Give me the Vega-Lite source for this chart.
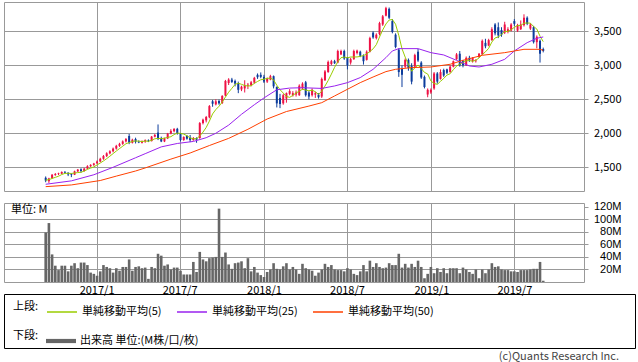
{
"$schema": "https://vega.github.io/schema/vega-lite/v6.json",
"padding": {"left": 3, "top": 1, "right": 0, "bottom": 0},
"background": "white",
"config": {
  "font": "Noto Sans CJK JP",
  "view": {"stroke": "#999999", "strokeWidth": 1},
  "axis": {"labelFont": "Noto Sans CJK JP", "labelFontSize": 11, "labelColor": "#000000", "gridColor": "#999999", "gridWidth": 1, "tickColor": "#999999", "domain": false, "labelOverlap": false},
  "legend": {"labelFont": "Noto Sans CJK JP", "titleFont": "Noto Sans CJK JP", "labelFontSize": 11, "titleFontSize": 11, "titleFontWeight": "normal", "labelColor": "#000000", "titleColor": "#000000", "padding": 0, "labelLimit": 300}
},
"datasets": {
"candles": [
{"date":"2016-09-12","open":1345,"high":1365,"low":1280,"close":1305,"volume":79},
{"date":"2016-09-19","open":1295,"high":1345,"low":1270,"close":1335,"volume":94},
{"date":"2016-09-26","open":1340,"high":1400,"low":1330,"close":1390,"volume":44},
{"date":"2016-10-03","open":1385,"high":1415,"low":1375,"close":1400,"volume":26},
{"date":"2016-10-10","open":1400,"high":1420,"low":1385,"close":1410,"volume":19},
{"date":"2016-10-17","open":1405,"high":1440,"low":1400,"close":1430,"volume":26},
{"date":"2016-10-24","open":1430,"high":1445,"low":1410,"close":1420,"volume":26},
{"date":"2016-10-31","open":1420,"high":1425,"low":1370,"close":1395,"volume":17},
{"date":"2016-11-07","open":1400,"high":1410,"low":1355,"close":1390,"volume":26},
{"date":"2016-11-14","open":1390,"high":1450,"low":1385,"close":1440,"volume":30},
{"date":"2016-11-21","open":1440,"high":1475,"low":1430,"close":1465,"volume":22},
{"date":"2016-11-28","open":1470,"high":1485,"low":1420,"close":1445,"volume":31},
{"date":"2016-12-05","open":1445,"high":1490,"low":1435,"close":1480,"volume":31},
{"date":"2016-12-12","open":1480,"high":1530,"low":1470,"close":1515,"volume":27},
{"date":"2016-12-19","open":1515,"high":1545,"low":1505,"close":1535,"volume":15},
{"date":"2016-12-26","open":1535,"high":1565,"low":1520,"close":1555,"volume":13},
{"date":"2017-01-02","open":1560,"high":1600,"low":1545,"close":1585,"volume":10},
{"date":"2017-01-09","open":1585,"high":1640,"low":1575,"close":1625,"volume":17},
{"date":"2017-01-16","open":1625,"high":1680,"low":1610,"close":1665,"volume":27},
{"date":"2017-01-23","open":1665,"high":1720,"low":1650,"close":1705,"volume":24},
{"date":"2017-01-30","open":1705,"high":1750,"low":1690,"close":1735,"volume":22},
{"date":"2017-02-06","open":1735,"high":1790,"low":1720,"close":1775,"volume":15},
{"date":"2017-02-13","open":1775,"high":1830,"low":1760,"close":1815,"volume":22},
{"date":"2017-02-20","open":1815,"high":1860,"low":1800,"close":1845,"volume":18},
{"date":"2017-02-27","open":1845,"high":1895,"low":1830,"close":1880,"volume":24},
{"date":"2017-03-06","open":1880,"high":1930,"low":1865,"close":1915,"volume":24},
{"date":"2017-03-13","open":1960,"high":1990,"low":1840,"close":1860,"volume":36},
{"date":"2017-03-20","open":1860,"high":1920,"low":1850,"close":1905,"volume":18},
{"date":"2017-03-27","open":1915,"high":1935,"low":1850,"close":1875,"volume":24},
{"date":"2017-04-03","open":1875,"high":1895,"low":1855,"close":1865,"volume":25},
{"date":"2017-04-10","open":1860,"high":1895,"low":1850,"close":1885,"volume":22},
{"date":"2017-04-17","open":1880,"high":1910,"low":1860,"close":1900,"volume":23},
{"date":"2017-04-24","open":1895,"high":1910,"low":1870,"close":1885,"volume":5},
{"date":"2017-05-01","open":1885,"high":1960,"low":1880,"close":1950,"volume":24},
{"date":"2017-05-08","open":1950,"high":1990,"low":1940,"close":1975,"volume":22},
{"date":"2017-05-15","open":2010,"high":2130,"low":1900,"close":1915,"volume":45},
{"date":"2017-05-22","open":1925,"high":1950,"low":1870,"close":1880,"volume":42},
{"date":"2017-05-29","open":1880,"high":1935,"low":1870,"close":1925,"volume":26},
{"date":"2017-06-05","open":1925,"high":2005,"low":1915,"close":1995,"volume":28},
{"date":"2017-06-12","open":1995,"high":2060,"low":1985,"close":2035,"volume":20},
{"date":"2017-06-19","open":2030,"high":2075,"low":2015,"close":2065,"volume":23},
{"date":"2017-06-26","open":2065,"high":2080,"low":1980,"close":1995,"volume":23},
{"date":"2017-07-03","open":1995,"high":2005,"low":1880,"close":1900,"volume":18},
{"date":"2017-07-10","open":1900,"high":1955,"low":1890,"close":1945,"volume":12},
{"date":"2017-07-17","open":1960,"high":1975,"low":1905,"close":1920,"volume":12},
{"date":"2017-07-24","open":1935,"high":1975,"low":1870,"close":1900,"volume":12},
{"date":"2017-07-31","open":1900,"high":1945,"low":1890,"close":1930,"volume":32},
{"date":"2017-08-07","open":1930,"high":1940,"low":1860,"close":1905,"volume":16},
{"date":"2017-08-14","open":1930,"high":2165,"low":1920,"close":2150,"volume":48},
{"date":"2017-08-21","open":2150,"high":2215,"low":2130,"close":2200,"volume":36},
{"date":"2017-08-28","open":2190,"high":2255,"low":2160,"close":2240,"volume":33},
{"date":"2017-09-04","open":2235,"high":2415,"low":2220,"close":2400,"volume":38},
{"date":"2017-09-11","open":2470,"high":2490,"low":2390,"close":2435,"volume":39},
{"date":"2017-09-18","open":2425,"high":2500,"low":2410,"close":2470,"volume":40},
{"date":"2017-09-25","open":2475,"high":2495,"low":2420,"close":2440,"volume":117},
{"date":"2017-10-02","open":2445,"high":2560,"low":2430,"close":2550,"volume":40},
{"date":"2017-10-09","open":2555,"high":2785,"low":2545,"close":2770,"volume":47},
{"date":"2017-10-16","open":2740,"high":2810,"low":2710,"close":2790,"volume":28},
{"date":"2017-10-23","open":2790,"high":2815,"low":2740,"close":2755,"volume":21},
{"date":"2017-10-30","open":2770,"high":2790,"low":2690,"close":2730,"volume":30},
{"date":"2017-11-06","open":2740,"high":2760,"low":2590,"close":2640,"volume":31},
{"date":"2017-11-13","open":2645,"high":2700,"low":2620,"close":2685,"volume":33},
{"date":"2017-11-20","open":2660,"high":2780,"low":2600,"close":2705,"volume":22},
{"date":"2017-11-27","open":2700,"high":2740,"low":2650,"close":2715,"volume":38},
{"date":"2017-12-04","open":2705,"high":2770,"low":2690,"close":2750,"volume":17},
{"date":"2017-12-11","open":2745,"high":2830,"low":2730,"close":2815,"volume":24},
{"date":"2017-12-18","open":2860,"high":2880,"low":2800,"close":2825,"volume":15},
{"date":"2017-12-25","open":2860,"high":2895,"low":2810,"close":2830,"volume":11},
{"date":"2018-01-01","open":2830,"high":2860,"low":2740,"close":2760,"volume":8},
{"date":"2018-01-08","open":2760,"high":2820,"low":2740,"close":2805,"volume":16},
{"date":"2018-01-15","open":2790,"high":2860,"low":2780,"close":2840,"volume":20},
{"date":"2018-01-22","open":2840,"high":2850,"low":2660,"close":2690,"volume":30},
{"date":"2018-01-29","open":2680,"high":2690,"low":2380,"close":2440,"volume":21},
{"date":"2018-02-05","open":2520,"high":2580,"low":2370,"close":2430,"volume":20},
{"date":"2018-02-12","open":2440,"high":2580,"low":2420,"close":2560,"volume":25},
{"date":"2018-02-19","open":2510,"high":2600,"low":2450,"close":2590,"volume":30},
{"date":"2018-02-26","open":2580,"high":2650,"low":2560,"close":2620,"volume":20},
{"date":"2018-03-05","open":2560,"high":2620,"low":2540,"close":2590,"volume":24},
{"date":"2018-03-12","open":2570,"high":2630,"low":2540,"close":2600,"volume":20},
{"date":"2018-03-19","open":2560,"high":2720,"low":2550,"close":2700,"volume":13},
{"date":"2018-03-26","open":2660,"high":2750,"low":2640,"close":2730,"volume":29},
{"date":"2018-04-02","open":2750,"high":2770,"low":2540,"close":2560,"volume":22},
{"date":"2018-04-09","open":2600,"high":2620,"low":2500,"close":2540,"volume":20},
{"date":"2018-04-16","open":2560,"high":2660,"low":2540,"close":2640,"volume":18},
{"date":"2018-04-23","open":2570,"high":2610,"low":2520,"close":2590,"volume":10},
{"date":"2018-04-30","open":2570,"high":2590,"low":2510,"close":2530,"volume":15},
{"date":"2018-05-07","open":2540,"high":2820,"low":2520,"close":2800,"volume":20},
{"date":"2018-05-14","open":2780,"high":2930,"low":2770,"close":2910,"volume":29},
{"date":"2018-05-21","open":2900,"high":3070,"low":2890,"close":3050,"volume":24},
{"date":"2018-05-28","open":3020,"high":3080,"low":3000,"close":3060,"volume":27},
{"date":"2018-06-04","open":3060,"high":3080,"low":3020,"close":3030,"volume":20},
{"date":"2018-06-11","open":3040,"high":3230,"low":3030,"close":3210,"volume":19},
{"date":"2018-06-18","open":3160,"high":3230,"low":3150,"close":3210,"volume":19},
{"date":"2018-06-25","open":3210,"high":3230,"low":3080,"close":3100,"volume":17},
{"date":"2018-07-02","open":3110,"high":3120,"low":2940,"close":3000,"volume":22},
{"date":"2018-07-09","open":3040,"high":3110,"low":3010,"close":3090,"volume":20},
{"date":"2018-07-16","open":3090,"high":3230,"low":3080,"close":3210,"volume":13},
{"date":"2018-07-23","open":3180,"high":3230,"low":3160,"close":3215,"volume":11},
{"date":"2018-07-30","open":3200,"high":3215,"low":3120,"close":3140,"volume":17},
{"date":"2018-08-06","open":3140,"high":3160,"low":3010,"close":3060,"volume":27},
{"date":"2018-08-13","open":3080,"high":3220,"low":3070,"close":3200,"volume":17},
{"date":"2018-08-20","open":3200,"high":3420,"low":3190,"close":3400,"volume":34},
{"date":"2018-08-27","open":3480,"high":3500,"low":3390,"close":3410,"volume":24},
{"date":"2018-09-03","open":3400,"high":3470,"low":3380,"close":3450,"volume":30},
{"date":"2018-09-10","open":3460,"high":3640,"low":3440,"close":3620,"volume":24},
{"date":"2018-09-17","open":3600,"high":3740,"low":3580,"close":3720,"volume":22},
{"date":"2018-09-24","open":3730,"high":3860,"low":3720,"close":3840,"volume":23},
{"date":"2018-10-01","open":3830,"high":3850,"low":3680,"close":3700,"volume":30},
{"date":"2018-10-08","open":3650,"high":3680,"low":3470,"close":3490,"volume":27},
{"date":"2018-10-15","open":3450,"high":3470,"low":3250,"close":3270,"volume":27},
{"date":"2018-10-22","open":3230,"high":3250,"low":2830,"close":2900,"volume":45},
{"date":"2018-10-29","open":2950,"high":3000,"low":2680,"close":2860,"volume":23},
{"date":"2018-11-05","open":2980,"high":3100,"low":2960,"close":3080,"volume":29},
{"date":"2018-11-12","open":3080,"high":3100,"low":2920,"close":2960,"volume":23},
{"date":"2018-11-19","open":2990,"high":3030,"low":2720,"close":2760,"volume":29},
{"date":"2018-11-26","open":2980,"high":3170,"low":2960,"close":3150,"volume":24},
{"date":"2018-12-03","open":3200,"high":3240,"low":3050,"close":3070,"volume":34},
{"date":"2018-12-10","open":3040,"high":3060,"low":2800,"close":2820,"volume":24},
{"date":"2018-12-17","open":2830,"high":2850,"low":2660,"close":2680,"volume":6},
{"date":"2018-12-24","open":2570,"high":2660,"low":2530,"close":2640,"volume":13},
{"date":"2018-12-31","open":2600,"high":2660,"low":2580,"close":2640,"volume":24},
{"date":"2019-01-07","open":2660,"high":2900,"low":2640,"close":2880,"volume":14},
{"date":"2019-01-14","open":2880,"high":2900,"low":2730,"close":2760,"volume":22},
{"date":"2019-01-21","open":2800,"high":2940,"low":2790,"close":2900,"volume":16},
{"date":"2019-01-28","open":2930,"high":2950,"low":2830,"close":2850,"volume":22},
{"date":"2019-02-04","open":2940,"high":2950,"low":2870,"close":2890,"volume":14},
{"date":"2019-02-11","open":2900,"high":3000,"low":2890,"close":2980,"volume":22},
{"date":"2019-02-18","open":2980,"high":3070,"low":2970,"close":3060,"volume":22},
{"date":"2019-02-25","open":3090,"high":3180,"low":3080,"close":3160,"volume":22},
{"date":"2019-03-04","open":3170,"high":3210,"low":2980,"close":3000,"volume":14},
{"date":"2019-03-11","open":3060,"high":3080,"low":2970,"close":3000,"volume":23},
{"date":"2019-03-18","open":3000,"high":3130,"low":2990,"close":3110,"volume":20},
{"date":"2019-03-25","open":3110,"high":3140,"low":3050,"close":3080,"volume":16},
{"date":"2019-04-01","open":3060,"high":3120,"low":3040,"close":3110,"volume":13},
{"date":"2019-04-08","open":3060,"high":3090,"low":3040,"close":3070,"volume":20},
{"date":"2019-04-15","open":3120,"high":3180,"low":3110,"close":3170,"volume":6},
{"date":"2019-04-22","open":3160,"high":3380,"low":3150,"close":3360,"volume":20},
{"date":"2019-04-29","open":3330,"high":3390,"low":3250,"close":3280,"volume":14},
{"date":"2019-05-06","open":3290,"high":3390,"low":3280,"close":3370,"volume":20},
{"date":"2019-05-13","open":3370,"high":3560,"low":3360,"close":3530,"volume":30},
{"date":"2019-05-20","open":3600,"high":3620,"low":3440,"close":3470,"volume":24},
{"date":"2019-05-27","open":3560,"high":3630,"low":3400,"close":3440,"volume":25},
{"date":"2019-06-03","open":3520,"high":3560,"low":3420,"close":3450,"volume":20},
{"date":"2019-06-10","open":3480,"high":3640,"low":3460,"close":3600,"volume":19},
{"date":"2019-06-17","open":3490,"high":3560,"low":3470,"close":3530,"volume":19},
{"date":"2019-06-24","open":3510,"high":3620,"low":3500,"close":3600,"volume":17},
{"date":"2019-07-01","open":3650,"high":3680,"low":3580,"close":3610,"volume":17},
{"date":"2019-07-08","open":3510,"high":3610,"low":3490,"close":3590,"volume":16},
{"date":"2019-07-15","open":3530,"high":3660,"low":3520,"close":3600,"volume":19},
{"date":"2019-07-22","open":3590,"high":3750,"low":3570,"close":3700,"volume":19},
{"date":"2019-07-29","open":3700,"high":3720,"low":3590,"close":3610,"volume":19},
{"date":"2019-08-05","open":3540,"high":3620,"low":3520,"close":3600,"volume":20},
{"date":"2019-08-12","open":3560,"high":3580,"low":3320,"close":3340,"volume":21},
{"date":"2019-08-19","open":3340,"high":3440,"low":3250,"close":3420,"volume":21},
{"date":"2019-08-26","open":3360,"high":3380,"low":3040,"close":3170,"volume":32},
{"date":"2019-09-02","open":3240,"high":3260,"low":3190,"close":3210,"volume":2}
],
"ma": [
{"date":"2016-09-12","series":"単純移動平均(5)","value":1310},
{"date":"2016-09-19","series":"単純移動平均(5)","value":1318},
{"date":"2016-09-26","series":"単純移動平均(5)","value":1335},
{"date":"2016-10-03","series":"単純移動平均(5)","value":1352},
{"date":"2016-10-10","series":"単純移動平均(5)","value":1368},
{"date":"2016-10-17","series":"単純移動平均(5)","value":1393},
{"date":"2016-10-24","series":"単純移動平均(5)","value":1410},
{"date":"2016-10-31","series":"単純移動平均(5)","value":1411},
{"date":"2016-11-07","series":"単純移動平均(5)","value":1409},
{"date":"2016-11-14","series":"単純移動平均(5)","value":1415},
{"date":"2016-11-21","series":"単純移動平均(5)","value":1422},
{"date":"2016-11-28","series":"単純移動平均(5)","value":1427},
{"date":"2016-12-05","series":"単純移動平均(5)","value":1444},
{"date":"2016-12-12","series":"単純移動平均(5)","value":1469},
{"date":"2016-12-19","series":"単純移動平均(5)","value":1488},
{"date":"2016-12-26","series":"単純移動平均(5)","value":1506},
{"date":"2017-01-02","series":"単純移動平均(5)","value":1534},
{"date":"2017-01-09","series":"単純移動平均(5)","value":1563},
{"date":"2017-01-16","series":"単純移動平均(5)","value":1593},
{"date":"2017-01-23","series":"単純移動平均(5)","value":1627},
{"date":"2017-01-30","series":"単純移動平均(5)","value":1663},
{"date":"2017-02-06","series":"単純移動平均(5)","value":1701},
{"date":"2017-02-13","series":"単純移動平均(5)","value":1739},
{"date":"2017-02-20","series":"単純移動平均(5)","value":1775},
{"date":"2017-02-27","series":"単純移動平均(5)","value":1810},
{"date":"2017-03-06","series":"単純移動平均(5)","value":1846},
{"date":"2017-03-13","series":"単純移動平均(5)","value":1863},
{"date":"2017-03-20","series":"単純移動平均(5)","value":1881},
{"date":"2017-03-27","series":"単純移動平均(5)","value":1887},
{"date":"2017-04-03","series":"単純移動平均(5)","value":1884},
{"date":"2017-04-10","series":"単純移動平均(5)","value":1878},
{"date":"2017-04-17","series":"単純移動平均(5)","value":1886},
{"date":"2017-04-24","series":"単純移動平均(5)","value":1882},
{"date":"2017-05-01","series":"単純移動平均(5)","value":1897},
{"date":"2017-05-08","series":"単純移動平均(5)","value":1919},
{"date":"2017-05-15","series":"単純移動平均(5)","value":1925},
{"date":"2017-05-22","series":"単純移動平均(5)","value":1921},
{"date":"2017-05-29","series":"単純移動平均(5)","value":1929},
{"date":"2017-06-05","series":"単純移動平均(5)","value":1938},
{"date":"2017-06-12","series":"単純移動平均(5)","value":1950},
{"date":"2017-06-19","series":"単純移動平均(5)","value":1980},
{"date":"2017-06-26","series":"単純移動平均(5)","value":2003},
{"date":"2017-07-03","series":"単純移動平均(5)","value":1998},
{"date":"2017-07-10","series":"単純移動平均(5)","value":1988},
{"date":"2017-07-17","series":"単純移動平均(5)","value":1965},
{"date":"2017-07-24","series":"単純移動平均(5)","value":1932},
{"date":"2017-07-31","series":"単純移動平均(5)","value":1919},
{"date":"2017-08-07","series":"単純移動平均(5)","value":1920},
{"date":"2017-08-14","series":"単純移動平均(5)","value":1961},
{"date":"2017-08-21","series":"単純移動平均(5)","value":2017},
{"date":"2017-08-28","series":"単純移動平均(5)","value":2085},
{"date":"2017-09-04","series":"単純移動平均(5)","value":2179},
{"date":"2017-09-11","series":"単純移動平均(5)","value":2285},
{"date":"2017-09-18","series":"単純移動平均(5)","value":2349},
{"date":"2017-09-25","series":"単純移動平均(5)","value":2397},
{"date":"2017-10-02","series":"単純移動平均(5)","value":2459},
{"date":"2017-10-09","series":"単純移動平均(5)","value":2533},
{"date":"2017-10-16","series":"単純移動平均(5)","value":2604},
{"date":"2017-10-23","series":"単純移動平均(5)","value":2661},
{"date":"2017-10-30","series":"単純移動平均(5)","value":2719},
{"date":"2017-11-06","series":"単純移動平均(5)","value":2737},
{"date":"2017-11-13","series":"単純移動平均(5)","value":2720},
{"date":"2017-11-20","series":"単純移動平均(5)","value":2703},
{"date":"2017-11-27","series":"単純移動平均(5)","value":2695},
{"date":"2017-12-04","series":"単純移動平均(5)","value":2699},
{"date":"2017-12-11","series":"単純移動平均(5)","value":2734},
{"date":"2017-12-18","series":"単純移動平均(5)","value":2762},
{"date":"2017-12-25","series":"単純移動平均(5)","value":2787},
{"date":"2018-01-01","series":"単純移動平均(5)","value":2796},
{"date":"2018-01-08","series":"単純移動平均(5)","value":2807},
{"date":"2018-01-15","series":"単純移動平均(5)","value":2812},
{"date":"2018-01-22","series":"単純移動平均(5)","value":2785},
{"date":"2018-01-29","series":"単純移動平均(5)","value":2707},
{"date":"2018-02-05","series":"単純移動平均(5)","value":2641},
{"date":"2018-02-12","series":"単純移動平均(5)","value":2592},
{"date":"2018-02-19","series":"単純移動平均(5)","value":2542},
{"date":"2018-02-26","series":"単純移動平均(5)","value":2528},
{"date":"2018-03-05","series":"単純移動平均(5)","value":2558},
{"date":"2018-03-12","series":"単純移動平均(5)","value":2592},
{"date":"2018-03-19","series":"単純移動平均(5)","value":2620},
{"date":"2018-03-26","series":"単純移動平均(5)","value":2648},
{"date":"2018-04-02","series":"単純移動平均(5)","value":2636},
{"date":"2018-04-09","series":"単純移動平均(5)","value":2626},
{"date":"2018-04-16","series":"単純移動平均(5)","value":2634},
{"date":"2018-04-23","series":"単純移動平均(5)","value":2612},
{"date":"2018-04-30","series":"単純移動平均(5)","value":2572},
{"date":"2018-05-07","series":"単純移動平均(5)","value":2620},
{"date":"2018-05-14","series":"単純移動平均(5)","value":2694},
{"date":"2018-05-21","series":"単純移動平均(5)","value":2776},
{"date":"2018-05-28","series":"単純移動平均(5)","value":2870},
{"date":"2018-06-04","series":"単純移動平均(5)","value":2970},
{"date":"2018-06-11","series":"単純移動平均(5)","value":3052},
{"date":"2018-06-18","series":"単純移動平均(5)","value":3112},
{"date":"2018-06-25","series":"単純移動平均(5)","value":3122},
{"date":"2018-07-02","series":"単純移動平均(5)","value":3110},
{"date":"2018-07-09","series":"単純移動平均(5)","value":3122},
{"date":"2018-07-16","series":"単純移動平均(5)","value":3122},
{"date":"2018-07-23","series":"単純移動平均(5)","value":3123},
{"date":"2018-07-30","series":"単純移動平均(5)","value":3131},
{"date":"2018-08-06","series":"単純移動平均(5)","value":3143},
{"date":"2018-08-13","series":"単純移動平均(5)","value":3165},
{"date":"2018-08-20","series":"単純移動平均(5)","value":3203},
{"date":"2018-08-27","series":"単純移動平均(5)","value":3242},
{"date":"2018-09-03","series":"単純移動平均(5)","value":3304},
{"date":"2018-09-10","series":"単純移動平均(5)","value":3416},
{"date":"2018-09-17","series":"単純移動平均(5)","value":3520},
{"date":"2018-09-24","series":"単純移動平均(5)","value":3608},
{"date":"2018-10-01","series":"単純移動平均(5)","value":3666},
{"date":"2018-10-08","series":"単純移動平均(5)","value":3674},
{"date":"2018-10-15","series":"単純移動平均(5)","value":3604},
{"date":"2018-10-22","series":"単純移動平均(5)","value":3440},
{"date":"2018-10-29","series":"単純移動平均(5)","value":3244},
{"date":"2018-11-05","series":"単純移動平均(5)","value":3120},
{"date":"2018-11-12","series":"単純移動平均(5)","value":3014},
{"date":"2018-11-19","series":"単純移動平均(5)","value":2912},
{"date":"2018-11-26","series":"単純移動平均(5)","value":2962},
{"date":"2018-12-03","series":"単純移動平均(5)","value":3004},
{"date":"2018-12-10","series":"単純移動平均(5)","value":2952},
{"date":"2018-12-17","series":"単純移動平均(5)","value":2896},
{"date":"2018-12-24","series":"単純移動平均(5)","value":2872},
{"date":"2018-12-31","series":"単純移動平均(5)","value":2770},
{"date":"2019-01-07","series":"単純移動平均(5)","value":2732},
{"date":"2019-01-14","series":"単純移動平均(5)","value":2720},
{"date":"2019-01-21","series":"単純移動平均(5)","value":2764},
{"date":"2019-01-28","series":"単純移動平均(5)","value":2806},
{"date":"2019-02-04","series":"単純移動平均(5)","value":2856},
{"date":"2019-02-11","series":"単純移動平均(5)","value":2876},
{"date":"2019-02-18","series":"単純移動平均(5)","value":2936},
{"date":"2019-02-25","series":"単純移動平均(5)","value":2988},
{"date":"2019-03-04","series":"単純移動平均(5)","value":3018},
{"date":"2019-03-11","series":"単純移動平均(5)","value":3040},
{"date":"2019-03-18","series":"単純移動平均(5)","value":3066},
{"date":"2019-03-25","series":"単純移動平均(5)","value":3070},
{"date":"2019-04-01","series":"単純移動平均(5)","value":3060},
{"date":"2019-04-08","series":"単純移動平均(5)","value":3074},
{"date":"2019-04-15","series":"単純移動平均(5)","value":3108},
{"date":"2019-04-22","series":"単純移動平均(5)","value":3158},
{"date":"2019-04-29","series":"単純移動平均(5)","value":3198},
{"date":"2019-05-06","series":"単純移動平均(5)","value":3250},
{"date":"2019-05-13","series":"単純移動平均(5)","value":3342},
{"date":"2019-05-20","series":"単純移動平均(5)","value":3402},
{"date":"2019-05-27","series":"単純移動平均(5)","value":3418},
{"date":"2019-06-03","series":"単純移動平均(5)","value":3452},
{"date":"2019-06-10","series":"単純移動平均(5)","value":3498},
{"date":"2019-06-17","series":"単純移動平均(5)","value":3498},
{"date":"2019-06-24","series":"単純移動平均(5)","value":3524},
{"date":"2019-07-01","series":"単純移動平均(5)","value":3558},
{"date":"2019-07-08","series":"単純移動平均(5)","value":3586},
{"date":"2019-07-15","series":"単純移動平均(5)","value":3586},
{"date":"2019-07-22","series":"単純移動平均(5)","value":3620},
{"date":"2019-07-29","series":"単純移動平均(5)","value":3622},
{"date":"2019-08-05","series":"単純移動平均(5)","value":3620},
{"date":"2019-08-12","series":"単純移動平均(5)","value":3570},
{"date":"2019-08-19","series":"単純移動平均(5)","value":3534},
{"date":"2019-08-26","series":"単純移動平均(5)","value":3428},
{"date":"2019-09-02","series":"単純移動平均(5)","value":3348},
{"date":"2016-09-12","series":"単純移動平均(25)","value":1250},
{"date":"2016-11-07","series":"単純移動平均(25)","value":1300},
{"date":"2016-12-26","series":"単純移動平均(25)","value":1390},
{"date":"2017-02-06","series":"単純移動平均(25)","value":1500},
{"date":"2017-03-27","series":"単純移動平均(25)","value":1640},
{"date":"2017-04-17","series":"単純移動平均(25)","value":1700},
{"date":"2017-05-22","series":"単純移動平均(25)","value":1800},
{"date":"2017-06-26","series":"単純移動平均(25)","value":1850},
{"date":"2017-07-31","series":"単純移動平均(25)","value":1880},
{"date":"2017-08-28","series":"単純移動平均(25)","value":1935},
{"date":"2017-09-18","series":"単純移動平均(25)","value":2000},
{"date":"2017-10-16","series":"単純移動平均(25)","value":2120},
{"date":"2017-11-13","series":"単純移動平均(25)","value":2279},
{"date":"2017-12-11","series":"単純移動平均(25)","value":2420},
{"date":"2018-01-01","series":"単純移動平均(25)","value":2520},
{"date":"2018-01-29","series":"単純移動平均(25)","value":2640},
{"date":"2018-02-26","series":"単純移動平均(25)","value":2665},
{"date":"2018-03-26","series":"単純移動平均(25)","value":2670},
{"date":"2018-05-07","series":"単純移動平均(25)","value":2660},
{"date":"2018-06-04","series":"単純移動平均(25)","value":2696},
{"date":"2018-07-02","series":"単純移動平均(25)","value":2745},
{"date":"2018-07-30","series":"単純移動平均(25)","value":2819},
{"date":"2018-08-27","series":"単純移動平均(25)","value":2941},
{"date":"2018-09-24","series":"単純移動平均(25)","value":3113},
{"date":"2018-10-08","series":"単純移動平均(25)","value":3211},
{"date":"2018-10-22","series":"単純移動平均(25)","value":3245},
{"date":"2018-12-03","series":"単純移動平均(25)","value":3245},
{"date":"2018-12-31","series":"単純移動平均(25)","value":3186},
{"date":"2019-01-28","series":"単純移動平均(25)","value":3152},
{"date":"2019-02-25","series":"単純移動平均(25)","value":3073},
{"date":"2019-03-25","series":"単純移動平均(25)","value":2990},
{"date":"2019-04-15","series":"単純移動平均(25)","value":2975},
{"date":"2019-05-13","series":"単純移動平均(25)","value":3015},
{"date":"2019-06-10","series":"単純移動平均(25)","value":3088},
{"date":"2019-07-01","series":"単純移動平均(25)","value":3211},
{"date":"2019-07-29","series":"単純移動平均(25)","value":3333},
{"date":"2019-08-19","series":"単純移動平均(25)","value":3397},
{"date":"2019-09-02","series":"単純移動平均(25)","value":3417},
{"date":"2016-09-12","series":"単純移動平均(50)","value":1215},
{"date":"2016-11-07","series":"単純移動平均(50)","value":1240},
{"date":"2017-01-09","series":"単純移動平均(50)","value":1305},
{"date":"2017-02-13","series":"単純移動平均(50)","value":1370},
{"date":"2017-03-27","series":"単純移動平均(50)","value":1445},
{"date":"2017-04-17","series":"単純移動平均(50)","value":1490},
{"date":"2017-06-12","series":"単純移動平均(50)","value":1620},
{"date":"2017-07-24","series":"単純移動平均(50)","value":1710},
{"date":"2017-09-04","series":"単純移動平均(50)","value":1820},
{"date":"2017-10-16","series":"単純移動平均(50)","value":1925},
{"date":"2017-11-27","series":"単純移動平均(50)","value":2059},
{"date":"2018-01-08","series":"単純移動平均(50)","value":2210},
{"date":"2018-02-19","series":"単純移動平均(50)","value":2320},
{"date":"2018-04-09","series":"単純移動平均(50)","value":2400},
{"date":"2018-05-07","series":"単純移動平均(50)","value":2450},
{"date":"2018-06-04","series":"単純移動平均(50)","value":2549},
{"date":"2018-07-02","series":"単純移動平均(50)","value":2647},
{"date":"2018-07-30","series":"単純移動平均(50)","value":2745},
{"date":"2018-08-27","series":"単純移動平均(50)","value":2828},
{"date":"2018-09-24","series":"単純移動平均(50)","value":2907},
{"date":"2018-10-15","series":"単純移動平均(50)","value":2941},
{"date":"2018-11-19","series":"単純移動平均(50)","value":2966},
{"date":"2018-12-31","series":"単純移動平均(50)","value":2975},
{"date":"2019-02-11","series":"単純移動平均(50)","value":3015},
{"date":"2019-03-11","series":"単純移動平均(50)","value":3073},
{"date":"2019-04-22","series":"単純移動平均(50)","value":3147},
{"date":"2019-06-10","series":"単純移動平均(50)","value":3186},
{"date":"2019-07-22","series":"単純移動平均(50)","value":3235},
{"date":"2019-08-26","series":"単純移動平均(50)","value":3235},
{"date":"2019-09-02","series":"単純移動平均(50)","value":3220}
]
},
"spacing": 12,
"bounds": "flush",
"vconcat": [
  {
    "width": 580,
    "height": 189,
    "layer": [
      {
        "data": {"name": "candles"},
        "mark": {"type": "rule", "strokeWidth": 1},
        "encoding": {
          "x": {"field": "date", "type": "temporal", "title": null,
                "scale": {"domain": [{"year": 2016, "month": 6, "date": 24}, {"year": 2019, "month": 11, "date": 19}]},
                "axis": {"values": [{"year": 2017, "month": 1, "date": 1}, {"year": 2017, "month": 7, "date": 1}, {"year": 2018, "month": 1, "date": 1}, {"year": 2018, "month": 7, "date": 1}, {"year": 2019, "month": 1, "date": 1}, {"year": 2019, "month": 7, "date": 1}], "labels": false, "ticks": false, "grid": true}},
          "y": {"field": "low", "type": "quantitative", "title": null,
                "scale": {"domain": [1151, 3931], "zero": false, "nice": false},
                "axis": {"orient": "right", "values": [1500, 2000, 2500, 3000, 3500], "format": ",d", "tickSize": 4, "labelPadding": 33, "labelAlign": "right", "grid": true}},
          "y2": {"field": "high"},
          "color": {"condition": {"test": "datum.close >= datum.open", "value": "#ee1144"}, "value": "#0c3c9c"}
        }
      },
      {
        "data": {"name": "candles"},
        "mark": {"type": "bar", "size": 2},
        "encoding": {
          "x": {"field": "date", "type": "temporal"},
          "y": {"field": "open", "type": "quantitative"},
          "y2": {"field": "close"},
          "color": {"condition": {"test": "datum.close >= datum.open", "value": "#ee1144"}, "value": "#0c3c9c"}
        }
      },
      {
        "data": {"name": "ma"},
        "mark": {"type": "line", "strokeWidth": 1},
        "encoding": {
          "x": {"field": "date", "type": "temporal"},
          "y": {"field": "value", "type": "quantitative"},
          "color": {"field": "series", "type": "nominal",
                    "scale": {"domain": ["単純移動平均(5)", "単純移動平均(25)", "単純移動平均(50)"], "range": ["#9acd00", "#9922ee", "#ff4000"]},
                    "legend": {"orient": "none", "legendX": 9, "legendY": 294, "direction": "horizontal", "title": "上段:", "titleOrient": "left", "titlePadding": 7, "symbolType": "stroke", "symbolSize": 900, "symbolStrokeWidth": 1.5, "labelOffset": 4, "columnPadding": 12}}
        }
      }
    ]
  },
  {
    "width": 580,
    "height": 79,
    "title": {"text": "単位: M", "anchor": "start", "frame": "group", "offset": -14, "dx": 7, "fontSize": 11, "fontWeight": "normal", "font": "Noto Sans CJK JP", "color": "#000000"},
    "data": {"name": "candles"},
    "mark": {"type": "bar", "size": 2.6},
    "encoding": {
      "x": {"field": "date", "type": "temporal", "title": null,
            "scale": {"domain": [{"year": 2016, "month": 6, "date": 24}, {"year": 2019, "month": 11, "date": 19}]},
            "axis": {"values": [{"year": 2017, "month": 1, "date": 1}, {"year": 2017, "month": 7, "date": 1}, {"year": 2018, "month": 1, "date": 1}, {"year": 2018, "month": 7, "date": 1}, {"year": 2019, "month": 1, "date": 1}, {"year": 2019, "month": 7, "date": 1}], "format": "%Y/%-m", "ticks": false, "labelPadding": 2, "grid": true, "labelFlush": false}},
      "y": {"field": "volume", "type": "quantitative", "title": null,
            "scale": {"domain": [0, 126], "nice": false},
            "axis": {"orient": "right", "values": [20, 40, 60, 80, 100, 120], "labelExpr": "datum.value + 'M'", "labelFont": "Liberation Sans", "labelFontSize": 11, "tickSize": 4, "labelPadding": 33, "labelAlign": "right", "grid": true,
                     "gridOpacity": {"condition": {"test": "datum.value > 110", "value": 0}, "value": 1}}},
      "fill": {"datum": "出来高 単位:(M株/口/枚)", "type": "nominal",
               "scale": {"range": ["#666666"]},
               "legend": {"orient": "none", "legendX": 9, "legendY": 324, "direction": "horizontal", "title": "下段:", "titleOrient": "left", "titlePadding": 7, "symbolType": "M-1,-0.14H1V0.14H-1Z", "symbolSize": 900, "symbolStrokeWidth": 0, "labelOffset": 4}}
    }
  },
  {
    "width": 631,
    "height": 54,
    "data": {"values": []},
    "mark": "rule",
    "encoding": {},
    "view": {"stroke": "#000000", "strokeWidth": 1},
    "title": {"text": "(c)Quants Research Inc.", "orient": "bottom", "anchor": "end", "frame": "group", "offset": 3, "dx": -16, "fontSize": 11, "fontWeight": "normal", "font": "Noto Sans CJK JP", "color": "#444444"}
  }
]
}
